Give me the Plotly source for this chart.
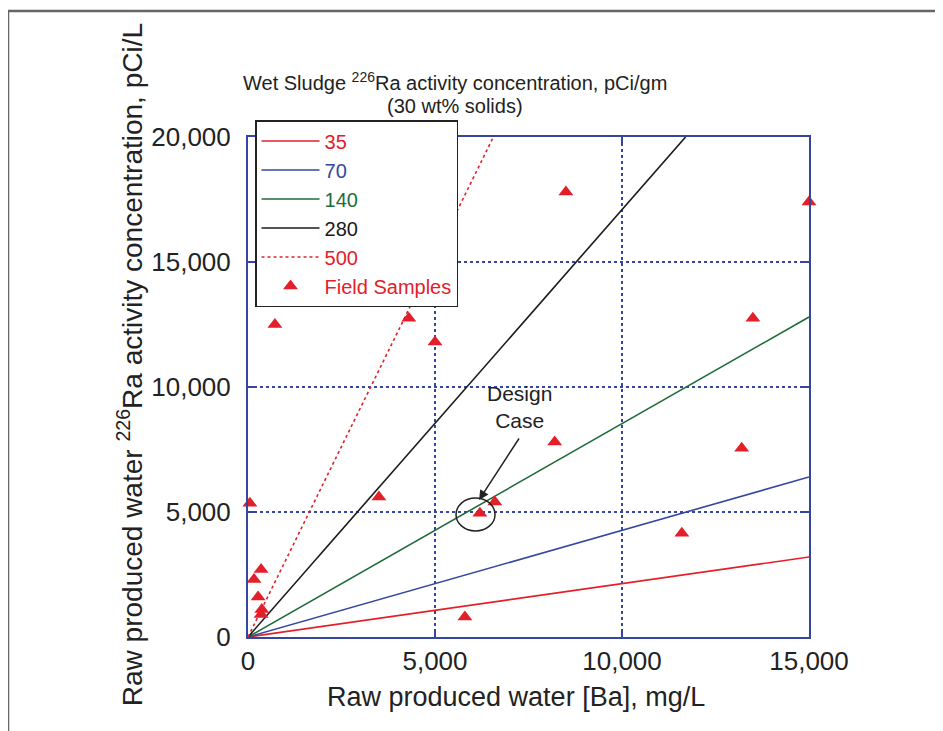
import plotly.graph_objects as go

# ---- data ----
conc_levels = ["35", "70", "140", "280", "500"]
line_x = [[0, 15000], [0, 15000], [0, 15000], [0, 11700], [0, 6560]]
line_y = [[0, 3200], [0, 6400], [0, 12800], [0, 20000], [0, 20000]]
line_colors = ["#e3202a", "#3446a0", "#1f6b3a", "#1a1a1a", "#e3202a"]
line_dash = ["solid", "solid", "solid", "solid", "dot"]

sample_ba = [50, 720, 4300, 5000, 3500, 6200, 6600, 8200, 8500, 15000,
             13500, 13200, 11600, 5800, 350, 160, 270, 370, 350]
sample_ra = [5350, 12500, 12750, 11800, 5600, 4950, 5400, 7800, 17800, 17400,
             12750, 7550, 4150, 800, 2700, 2300, 1600, 1100, 900]

x_ticks = [0, 5000, 10000, 15000]
y_ticks = [0, 5000, 10000, 15000, 20000]

AX_BLUE = "#3446a0"
FONT = "Liberation Sans, Arial, sans-serif"

fig = go.Figure()
for name, xs, ys, col, dash in zip(conc_levels, line_x, line_y, line_colors, line_dash):
    fig.add_trace(go.Scatter(
        x=xs, y=ys, mode="lines",
        line=dict(color=col, width=1.6, dash=dash),
        name=f"<span style='color:{col}'>{name}</span>",
    ))
fig.add_trace(go.Scatter(
    x=sample_ba, y=sample_ra, mode="markers",
    marker=dict(symbol="triangle-up", size=13, color="#e3202a"),
    name="<span style='color:#e3202a'>Field Samples</span>",
    cliponaxis=False,
))

axis_common = dict(
    showline=True, linecolor=AX_BLUE, linewidth=2, mirror="ticks",
    ticks="inside", ticklen=7, tickcolor=AX_BLUE, tickwidth=2,
    showgrid=True, gridcolor=AX_BLUE, gridwidth=1.5, griddash="dot",
    zeroline=False, tickformat=",",
    tickfont=dict(family=FONT, size=26, color="#222"),
)
fig.update_xaxes(range=[0, 15000], tickvals=x_ticks, **axis_common)
fig.update_yaxes(range=[0, 20000], tickvals=y_ticks, ticklabelstandoff=10, **axis_common)

fig.update_layout(
    width=935, height=723,
    margin=dict(l=240, r=134, t=129, b=94),
    plot_bgcolor="white", paper_bgcolor="white",
    font=dict(family=FONT, color="#222"),
    showlegend=True,
    legend=dict(
        x=0.0125, y=1.034, xanchor="left", yanchor="top",
        bgcolor="white", bordercolor="#222", borderwidth=1.5,
        font=dict(family=FONT, size=20),
        tracegroupgap=0, itemwidth=58,
    ),
    annotations=[
        dict(xref="paper", yref="paper", x=0.369, y=1.11,
             text="Wet Sludge <sup>226</sup>Ra activity concentration, pCi/gm",
             showarrow=False, font=dict(family=FONT, size=20, color="#222"),
             xanchor="center", yanchor="middle"),
        dict(xref="paper", yref="paper", x=0.369, y=1.062,
             text="(30 wt% solids)",
             showarrow=False, font=dict(family=FONT, size=20, color="#222"),
             xanchor="center", yanchor="middle"),
        dict(xref="paper", yref="paper", x=0.478, y=-0.12,
             text="Raw produced water [Ba], mg/L", showarrow=False,
             font=dict(family=FONT, size=27, color="#222"),
             xanchor="center", yanchor="middle"),
        dict(xref="paper", yref="paper", x=-0.21, y=0.544,
             text="Raw produced water <sup>226</sup>Ra activity concentration, pCi/L",
             textangle=-90, showarrow=False,
             font=dict(family=FONT, size=28, color="#222"),
             xanchor="center", yanchor="middle"),
        dict(xref="x", yref="y", x=7250, y=9200,
             text="Design<br>Case", showarrow=False,
             font=dict(family=FONT, size=21, color="#222"),
             xanchor="center", yanchor="middle"),
        dict(xref="x", yref="y", x=6177, y=5480, axref="x", ayref="y",
             ax=7273, ay=8000, text="", showarrow=True,
             arrowhead=2, arrowsize=1.3, arrowwidth=1.5, arrowcolor="#222"),
    ],
    shapes=[
        dict(type="circle", xref="x", yref="y", x0=5562, x1=6605, y0=4240, y1=5560,
             line=dict(color="#222", width=1.5)),
        dict(type="line", xref="paper", yref="paper", x0=-0.4278, x1=1.25,
             y0=1.252, y1=1.252, line=dict(color="#666", width=2.5)),
        dict(type="line", xref="paper", yref="paper", x0=-0.4278, x1=-0.4278,
             y0=1.252, y1=-0.2, line=dict(color="#666", width=2.5)),
    ],
)

fig.write_html("out.html")
